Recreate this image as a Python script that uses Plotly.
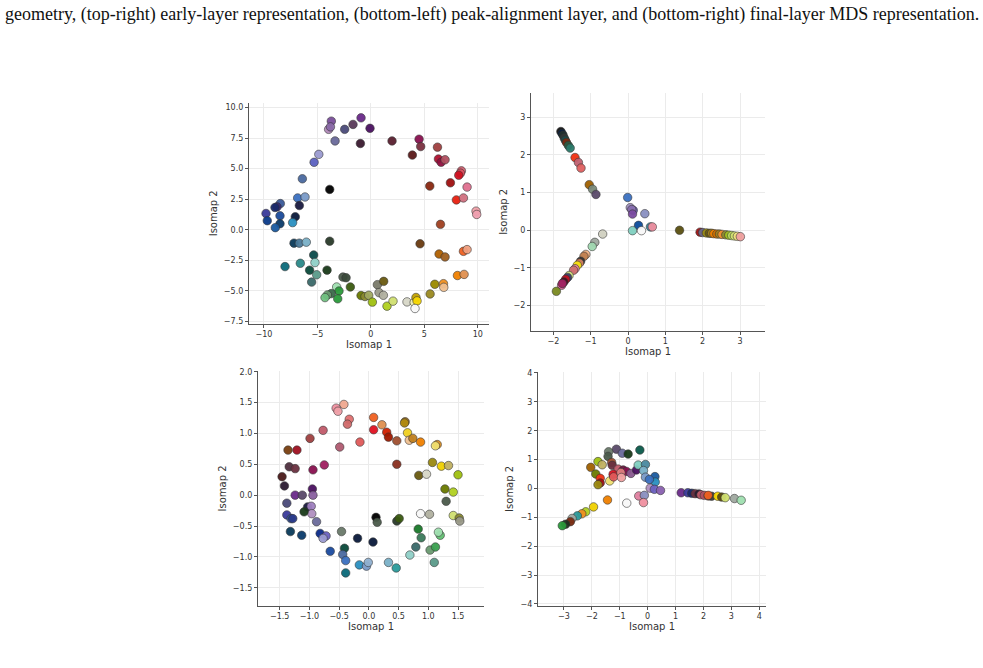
import plotly.graph_objects as go

# ---------------- data ----------------
# Panel 1 (top-left): ground-truth geometry
p1 = [
    (-3.70, 8.89, "#7a4f9a"), (-3.95, 8.22, "#b08ab8"), (-3.78, 8.42, "#8a6aa8"),
    (-2.45, 8.22, "#4a4a7a"), (-1.67, 8.62, "#5a3a5a"), (-0.92, 9.16, "#6a2a8a"),
    (-0.08, 8.30, "#4a1060"), (-3.35, 7.27, "#6a6a9a"), (-0.98, 7.06, "#3a1a30"),
    (1.98, 7.27, "#5a2030"), (4.51, 7.41, "#8a1050"), (4.66, 6.81, "#7a3040"),
    (3.88, 6.11, "#5a1a1a"), (6.23, 6.76, "#a04040"), (6.32, 5.79, "#b01030"),
    (6.57, 5.52, "#901040"), (6.94, 5.73, "#b05060"), (-4.87, 6.17, "#9a9ad0"),
    (-5.31, 5.52, "#5a60c0"), (8.47, 4.82, "#d06070"), (8.38, 4.63, "#e05060"),
    (8.22, 4.46, "#d01020"), (7.44, 3.84, "#a01010"), (5.51, 3.57, "#8a2810"),
    (9.00, 3.49, "#e07090"), (-6.41, 4.17, "#4a6aa0"), (-3.85, 3.30, "#000000"),
    (-6.85, 2.60, "#3a70c0"), (-6.16, 2.68, "#7a9ac8"), (-6.69, 1.98, "#1a1a40"),
    (-8.47, 2.14, "#3a5a9a"), (-8.78, 1.87, "#3a2a7a"), (-8.97, 1.82, "#1a2a6a"),
    (-9.81, 1.33, "#3a3a9a"), (-9.69, 0.74, "#0a3a8a"), (-8.50, 1.14, "#1a4a9a"),
    (-8.50, 0.49, "#0a3a6a"), (-8.94, 0.17, "#1a5aa0"), (-7.07, 1.06, "#0a1a3a"),
    (-7.32, 0.58, "#2a90c0"), (8.00, 2.44, "#e82010"), (8.66, 2.60, "#d07080"),
    (9.84, 1.52, "#f0a0a8"), (9.90, 1.25, "#f0a0b0"), (6.51, 0.44, "#a04020"),
    (4.60, -1.15, "#6a3a10"), (-7.19, -1.10, "#0a3a5a"), (-6.69, -1.10, "#4a7a9a"),
    (-6.04, -1.02, "#7ab0c8"), (-3.85, -0.94, "#2a3a2a"), (-5.35, -2.07, "#0a4a4a"),
    (-6.60, -2.75, "#2a8a8a"), (-5.23, -2.69, "#90d0c8"), (-8.03, -3.02, "#0a6a7a"),
    (-5.73, -3.31, "#0a4a3a"), (-4.10, -3.31, "#1a3a1a"), (-5.07, -3.69, "#5a9a8a"),
    (-5.54, -4.29, "#3a6a6a"), (-2.61, -3.88, "#4a5a4a"), (-2.32, -3.93, "#3a4a3a"),
    (-1.92, -4.69, "#3a5a10"), (-3.20, -4.69, "#a0e0b0"), (-2.98, -5.02, "#2a9a3a"),
    (-3.70, -5.23, "#3a6a4a"), (-4.07, -5.34, "#6a9a70"), (-4.29, -5.56, "#70c080"),
    (-3.10, -5.66, "#2a9a3a"), (0.61, -4.50, "#7a7a6a"), (1.20, -4.23, "#6a5a10"),
    (0.76, -5.15, "#9a9a8a"), (1.17, -5.37, "#b0b0a0"), (-0.92, -5.39, "#6a7a00"),
    (-0.55, -5.47, "#8a8a30"), (-0.20, -5.37, "#a0a860"), (0.14, -5.93, "#a0c010"),
    (1.51, -6.26, "#b0d020"), (2.07, -5.85, "#d0e070"), (3.38, -5.91, "#d8d8c8"),
    (4.05, -5.95, "#f0f0b0"), (4.22, -5.55, "#c0a000"), (4.32, -5.83, "#f8d800"),
    (4.13, -6.45, "#f8f8f8"), (5.54, -5.26, "#9a8a20"), (5.98, -4.47, "#9a8a00"),
    (6.79, -4.42, "#f09020"), (6.82, -4.72, "#f0c090"), (6.38, -1.99, "#b06000"),
    (6.94, -2.23, "#a06020"), (8.10, -3.75, "#f08000"), (8.72, -3.66, "#e09050"),
    (8.66, -1.77, "#f06020"), (9.00, -1.63, "#f0a080"),
]

# Panel 2 (top-right): early-layer representation
p2 = [
    (-1.80, 2.62, "#101010"), (-1.77, 2.57, "#0a2040"), (-1.74, 2.52, "#203030"),
    (-1.71, 2.45, "#303838"), (-1.68, 2.39, "#1a4a4a"), (-1.65, 2.33, "#7a2a10"),
    (-1.60, 2.25, "#2a5a40"), (-1.55, 2.18, "#2a7a6a"), (-1.42, 1.93, "#f03010"),
    (-1.33, 1.80, "#c06070"), (-1.26, 1.65, "#e06060"), (-1.04, 1.21, "#a06000"),
    (-0.95, 1.09, "#7a8a7a"), (-0.86, 0.95, "#5a4a6a"),
    (-0.01, 0.87, "#3a70c0"), (0.06, 0.60, "#a090c0"), (0.14, 0.53, "#6a60b0"),
    (0.10, 0.55, "#8a70b0"), (0.12, 0.43, "#7a4aa0"), (0.45, 0.44, "#8a90c0"),
    (0.28, 0.13, "#0a4a9a"), (0.12, -0.01, "#80d0c0"), (0.36, -0.01, "#f8f8f8"),
    (0.60, 0.09, "#3a8aa0"), (0.65, 0.09, "#f090a0"), (1.38, 0.00, "#5a5010"),
    (1.93, -0.05, "#a01010"), (2.00, -0.06, "#6a6a8a"), (2.10, -0.07, "#9a8a10"),
    (2.18, -0.08, "#6a5a10"), (2.24, -0.08, "#a08020"), (2.30, -0.09, "#f08000"),
    (2.38, -0.10, "#d07000"), (2.45, -0.10, "#a08020"), (2.52, -0.11, "#f09030"),
    (2.62, -0.12, "#8a8a30"), (2.70, -0.13, "#a0c020"), (2.78, -0.14, "#c0e060"),
    (2.85, -0.15, "#d0e070"), (2.93, -0.16, "#f0e080"), (3.01, -0.17, "#f0a0a0"),
    (-0.68, -0.10, "#d0d0c0"), (-0.89, -0.32, "#a0a8a0"), (-0.96, -0.43, "#a0d8b0"),
    (-1.13, -0.64, "#f0b080"), (-1.18, -0.69, "#c08050"), (-1.27, -0.82, "#303030"),
    (-1.30, -0.87, "#d08060"), (-1.36, -0.93, "#f8e010"), (-1.42, -1.02, "#e080a0"),
    (-1.46, -1.06, "#d07070"), (-1.58, -1.20, "#d0e080"), (-1.62, -1.25, "#3a3a6a"),
    (-1.67, -1.30, "#c01020"), (-1.72, -1.37, "#401020"), (-1.78, -1.46, "#d06090"),
    (-1.76, -1.41, "#a02060"), (-1.92, -1.62, "#7a8a20"),
]

# Panel 3 (bottom-left): peak-alignment layer
p3 = [
    (-0.42, 1.47, "#f0a890"), (-0.55, 1.41, "#f090a0"), (-0.52, 1.36, "#f0a0a8"),
    (-0.33, 1.23, "#e07070"), (-0.36, 1.15, "#d06a6a"), (-0.77, 1.05, "#c05a6a"),
    (-0.99, 0.92, "#a04040"), (-0.49, 0.78, "#b05a70"), (-0.15, 0.86, "#e05a5a"),
    (0.08, 1.26, "#f06020"), (0.08, 1.06, "#e01020"), (0.22, 1.14, "#e09050"),
    (0.30, 1.02, "#d02000"), (0.33, 0.94, "#a01a00"), (0.47, 0.88, "#a05030"),
    (0.61, 1.19, "#a07020"), (0.60, 1.17, "#b08a10"), (0.65, 1.01, "#f0d020"),
    (0.68, 0.89, "#f0c090"), (0.74, 0.92, "#c08020"), (0.87, 0.86, "#f08000"),
    (1.15, 0.82, "#e09020"), (1.12, 0.80, "#f0e070"), (-1.36, 0.73, "#7a4010"),
    (-1.21, 0.73, "#a01020"), (-1.34, 0.46, "#503040"), (-1.24, 0.43, "#6a3040"),
    (-0.94, 0.41, "#8a1050"), (-0.75, 0.49, "#a02060"), (-1.46, 0.30, "#4a1a1a"),
    (-1.42, 0.15, "#2a1a30"), (-0.95, 0.10, "#4a1060"), (-1.24, 0.00, "#6a2a8a"),
    (-1.12, 0.00, "#5a4a6a"), (-0.94, 0.00, "#8a60a0"), (-1.38, -0.13, "#4a4a7a"),
    (-1.03, -0.19, "#1a1a40"), (-0.97, -0.18, "#a080c0"), (-0.96, -0.30, "#b090c0"),
    (-1.38, -0.32, "#3a3a9a"), (-1.09, -0.27, "#1a3a1a"), (-1.31, -0.38, "#3a5a9a"),
    (-1.28, -0.38, "#2a3a8a"), (-0.88, -0.43, "#6a6a9a"), (-1.32, -0.59, "#0a3a5a"),
    (-1.13, -0.65, "#0a3a6a"), (-0.82, -0.62, "#0a2a8a"), (-0.72, -0.66, "#6a60c0"),
    (-0.77, -0.70, "#9a9ad0"), (-0.46, -0.59, "#6a7a6a"), (-0.65, -0.91, "#1a4aa0"),
    (-0.41, -0.86, "#0a4a3a"), (-0.44, -0.96, "#4a6aa0"), (-0.39, -1.06, "#3a70c0"),
    (-0.39, -1.26, "#0a6a7a"), (-0.19, -0.70, "#0a1a3a"), (0.07, -0.76, "#0a1a3a"),
    (-0.16, -1.13, "#2a90c0"), (-0.04, -1.15, "#7a9ac8"), (-0.01, -1.09, "#90b0d0"),
    (0.33, -1.09, "#7ab0c8"), (0.46, -1.18, "#2a9a9a"), (0.69, -0.97, "#90d0c8"),
    (0.79, -0.84, "#3a6a6a"), (0.88, -0.69, "#3a7a5a"), (0.83, -0.55, "#1a7a2a"),
    (1.03, -0.89, "#6a9a70"), (1.12, -0.84, "#3aa050"), (1.10, -1.09, "#5a9a8a"),
    (1.20, -0.65, "#60c070"), (1.17, -0.60, "#a0e0b0"), (0.12, -0.36, "#000000"),
    (0.14, -0.44, "#4a5a4a"), (0.47, -0.42, "#2a3a2a"), (0.51, -0.38, "#3a5a10"),
    (0.47, 0.50, "#8a3020"), (0.84, 0.32, "#6a5a10"), (0.97, 0.34, "#d8d8c8"),
    (1.07, 0.53, "#9a8a10"), (1.22, 0.47, "#f0d000"), (1.34, 0.48, "#c0b060"),
    (1.50, 0.33, "#a0c010"), (1.28, 0.10, "#6a7a00"), (1.42, 0.05, "#b0d020"),
    (1.30, -0.10, "#4a5a4a"), (0.87, -0.30, "#f8f8f8"), (1.02, -0.31, "#b0b0a0"),
    (1.42, -0.33, "#d0e070"), (1.52, -0.37, "#8a8a30"), (1.53, -0.42, "#9a9a8a"),
]

# Panel 4 (bottom-right): final-layer MDS representation
p4 = [
    (-0.28, 1.33, "#0a5a4a"), (-1.12, 1.36, "#5a4a6a"), (-0.91, 1.22, "#6a6a9a"),
    (-0.70, 1.19, "#1a3a1a"), (-1.40, 1.27, "#6a7a6a"), (-1.42, 1.11, "#4a5a4a"),
    (-1.78, 0.93, "#a0c010"), (-1.63, 0.82, "#c0b060"), (-2.04, 0.73, "#a06000"),
    (-1.29, 0.90, "#a05030"), (-1.27, 0.80, "#6a3040"), (-1.06, 0.67, "#c05a6a"),
    (-0.88, 0.64, "#6a1a40"), (-0.76, 0.59, "#8a1050"), (-0.60, 0.52, "#8a5a90"),
    (-0.40, 0.64, "#4a1060"), (-0.34, 0.81, "#80d0c0"), (-0.08, 0.83, "#4a8aa0"),
    (-0.15, 0.62, "#7ab0c8"), (0.26, 0.41, "#1a5aa0"), (0.27, 0.22, "#2a90c0"),
    (-0.08, 0.39, "#7a9ac8"), (0.06, 0.31, "#3a70c0"), (-1.86, 0.50, "#6a7a00"),
    (-1.70, 0.35, "#f03010"), (-1.70, 0.19, "#a01010"), (-1.78, 0.13, "#9a8a10"),
    (-1.36, 0.26, "#f0e070"), (-1.24, 0.49, "#e01020"), (-1.22, 0.40, "#e05a5a"),
    (-0.96, 0.55, "#e08080"), (-0.94, 0.38, "#f0a0a0"), (0.09, 0.01, "#b090c0"),
    (0.24, -0.03, "#6a60c0"), (0.46, -0.07, "#8a60b0"), (-0.32, -0.26, "#e080a0"),
    (-0.12, -0.24, "#8a90c0"), (-0.15, -0.49, "#f090a0"), (-0.75, -0.51, "#f8f8f8"),
    (-1.44, -0.40, "#f08000"), (-1.94, -0.64, "#f0d000"), (-2.22, -0.81, "#b0d020"),
    (-2.36, -0.88, "#f09020"), (-2.52, -0.95, "#2a9a9a"), (-2.71, -1.04, "#a0a8a0"),
    (-2.77, -1.15, "#7a2a10"), (-2.94, -1.24, "#203020"), (-3.06, -1.29, "#2a9a3a"),
    (1.20, -0.15, "#6a2a8a"), (1.44, -0.15, "#3a3a9a"), (1.58, -0.17, "#1a2a6a"),
    (1.70, -0.18, "#6a3040"), (1.84, -0.19, "#2a1a30"), (1.91, -0.22, "#c05a6a"),
    (2.03, -0.24, "#b05060"), (2.17, -0.26, "#a05030"), (2.29, -0.27, "#3a3a3a"),
    (2.17, -0.24, "#f06020"), (2.51, -0.27, "#f8d800"), (2.65, -0.30, "#5a4a10"),
    (2.78, -0.32, "#d0e070"), (3.11, -0.35, "#a0a8a0"), (3.35, -0.41, "#a0e0b0"),
]

caption = ("geometry, (top-right) early-layer representation, (bottom-left) "
           "peak-alignment layer, and (bottom-right) final-layer MDS representation.")

x_ticks = [[-10, -5, 0, 5, 10], [-2, -1, 0, 1, 2, 3],
           [-1.5, -1.0, -0.5, 0.0, 0.5, 1.0, 1.5], [-3, -2, -1, 0, 1, 2, 3, 4]]
y_ticks = [[-7.5, -5.0, -2.5, 0.0, 2.5, 5.0, 7.5, 10.0], [-2, -1, 0, 1, 2, 3],
           [-1.5, -1.0, -0.5, 0.0, 0.5, 1.0, 1.5, 2.0], [-4, -3, -2, -1, 0, 1, 2, 3, 4]]
tick_fmt = [(".0f", ".1f"), (".0f", ".0f"), (".1f", ".1f"), (".0f", ".0f")]

# ---------------- layout ----------------
W, H = 983, 668
boxes = [  # (left, right, top, bottom) in px
    (249, 489, 100, 323),
    (531, 765, 90, 330),
    (258, 484, 371, 608),
    (538, 766, 372, 608),
]
x_ranges = [(-11.4, 11.05), (-2.6, 3.67), (-1.865, 1.937), (-3.93, 4.24)]
y_ranges = [(-7.69, 10.38), (-2.66, 3.64), (-1.79, 2.01), (-4.06, 4.03)]

fig = go.Figure()
panels = [p1, p2, p3, p4]
layout_axes = {}
for i, pts in enumerate(panels):
    n = "" if i == 0 else str(i + 1)
    xs = [p[0] for p in pts]
    ys = [p[1] for p in pts]
    cs = [p[2] for p in pts]
    fig.add_trace(go.Scatter(
        x=xs, y=ys, mode="markers",
        xaxis="x" + n, yaxis="y" + n,
        marker=dict(size=8.5, color=cs, opacity=0.95,
                    line=dict(width=0.6, color="#333333")),
        showlegend=False, hoverinfo="x+y",
    ))
    l, r, t, b = boxes[i]
    common = dict(showline=True, linecolor="#555555", linewidth=1.2,
                  ticks="outside", ticklen=3, tickwidth=1, tickcolor="#555555",
                  showgrid=True, gridcolor="#ebebeb", gridwidth=1,
                  zeroline=False, tickfont=dict(family="DejaVu Sans", size=8, color="#333333"),
                  mirror=False)
    layout_axes["xaxis" + n] = dict(
        common, domain=[l / W, r / W], anchor="y" + n, range=list(x_ranges[i]),
        tickvals=x_ticks[i], tickformat=tick_fmt[i][0],
        title=dict(text="Isomap 1", standoff=2,
                   font=dict(family="DejaVu Sans", size=10, color="#333333")))
    layout_axes["yaxis" + n] = dict(
        common, domain=[1 - b / H, 1 - t / H], anchor="x" + n, range=list(y_ranges[i]),
        tickvals=y_ticks[i], tickformat=tick_fmt[i][1],
        title=dict(text="Isomap 2", standoff=4,
                   font=dict(family="DejaVu Sans", size=10, color="#333333")))

fig.update_layout(
    width=W, height=H, margin=dict(l=0, r=0, t=0, b=0),
    paper_bgcolor="white", plot_bgcolor="white",
    **layout_axes,
    annotations=[dict(text=caption, x=0.5, y=1 - 11 / H, xref="paper", yref="paper",
                      showarrow=False, xanchor="center", yanchor="middle",
                      font=dict(family="Liberation Serif", size=18, color="#111111"))],
)

fig.write_html("out.html")
